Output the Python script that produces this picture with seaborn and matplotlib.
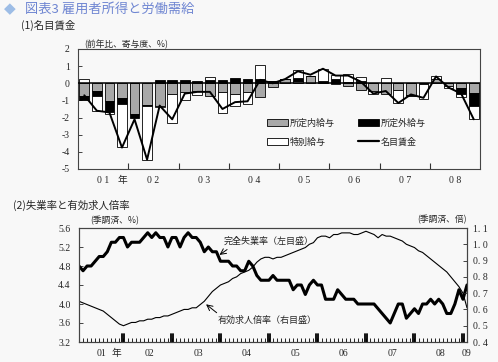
import numpy as np
import pandas as pd
import matplotlib
matplotlib.use('Agg')
import matplotlib.pyplot as plt
import matplotlib.transforms as mtransforms
from matplotlib.patches import Patch
from matplotlib.lines import Line2D
import seaborn as sns

# (1) nominal wage, quarterly 2001Q1-2008Q4, contributions (%)
quarters = np.arange(32)
shonai = [-0.75, -0.45, -1.05, -0.85, -1.80, -1.25, -1.30, -0.60, -0.50, -0.45, -0.75, -0.50, -0.60, -0.50, -0.80, -0.20,
          0.27, 0.14, 0.45, 0.00, -0.06, -0.15, -0.40, -0.45, -0.65, -0.37, -0.70, -0.05, 0.25, -0.15, -0.27, -0.55]
shogai = [-0.20, -0.30, -0.60, -0.35, -0.25, -0.05, 0.18, 0.20, 0.17, 0.12, 0.20, 0.20, 0.30, 0.25, 0.27, 0.15,
          0.00, 0.14, 0.00, 0.14, 0.27, 0.10, 0.14, 0.00, 0.03, 0.00, -0.02, 0.00, 0.00, 0.00, -0.33, -0.78]
tokubetsu = [0.25, -0.85, -0.15, -2.50, 0.00, -3.15, -0.10, -1.70, -0.45, -0.25, 0.15, -1.25, -0.75, -0.70, 0.78, 0.00,
             0.00, 0.49, 0.00, 0.72, 0.20, 0.45, 0.25, -0.15, 0.27, -0.80, 0.00, -0.85, 0.15, -0.15, -0.20, -0.75]
meimoku = [-0.70, -1.60, -1.70, -3.75, -2.10, -4.45, -1.30, -2.10, -0.60, -0.50, -0.50, -1.50, -1.10, -1.05, 0.20, 0.00,
           0.25, 0.70, 0.50, 0.85, 0.45, 0.45, 0.10, -0.60, -0.45, -1.15, -0.65, -0.85, 0.40, -0.25, -0.60, -2.10]
top_year_labels = ['0 1', '0 2', '0 3', '0 4', '0 5', '0 6', '0 7', '0 8']

# (2) unemployment rate (%) and job offers ratio, monthly 2001/1-2009/1
unemp = [4.8, 4.7, 4.8, 4.8, 4.9, 5.0, 5.0, 5.1, 5.3, 5.3, 5.4, 5.4,
         5.2, 5.3, 5.3, 5.3, 5.4, 5.5, 5.4, 5.5, 5.4, 5.4, 5.2, 5.4,
         5.4, 5.2, 5.4, 5.5, 5.4, 5.4, 5.3, 5.1, 5.2, 5.1, 5.1, 4.9,
         4.9, 4.9, 4.8, 4.8, 4.7, 4.7, 4.9, 4.8, 4.6, 4.5, 4.5, 4.5,
         4.6, 4.5, 4.5, 4.5, 4.5, 4.3, 4.4, 4.4, 4.2, 4.4, 4.5, 4.4,
         4.4, 4.1, 4.1, 4.1, 4.3, 4.2, 4.1, 4.1, 4.1, 4.0, 4.0, 4.0,
         4.0, 4.0, 3.9, 3.8, 3.7, 3.6, 3.8, 4.0, 4.0, 3.7, 3.8, 3.9,
         3.8, 4.0, 4.0, 4.1, 4.0, 4.1, 4.0, 3.8, 3.8, 4.0, 4.3, 4.1, 4.4]
ratio = [0.65, 0.64, 0.63, 0.62, 0.61, 0.60, 0.59, 0.57, 0.55, 0.53, 0.51, 0.50,
         0.51, 0.52, 0.52, 0.53, 0.53, 0.54, 0.54, 0.55, 0.55, 0.56, 0.56, 0.57,
         0.58, 0.59, 0.60, 0.60, 0.61, 0.61, 0.63, 0.65, 0.68, 0.71, 0.73, 0.75,
         0.76, 0.77, 0.79, 0.80, 0.82, 0.83, 0.84, 0.86, 0.89, 0.91, 0.92, 0.92,
         0.91, 0.92, 0.92, 0.93, 0.94, 0.95, 0.96, 0.97, 0.98, 1.00, 1.01, 1.04,
         1.05, 1.05, 1.04, 1.06, 1.06, 1.07, 1.07, 1.07, 1.06, 1.06, 1.07, 1.08,
         1.07, 1.06, 1.04, 1.06, 1.05, 1.05, 1.04, 1.03, 1.02, 1.00, 0.99, 0.98,
         0.96, 0.95, 0.93, 0.91, 0.89, 0.87, 0.85, 0.83, 0.80, 0.77, 0.74, 0.70, 0.61]
months = np.arange(len(unemp))
bottom_year_labels = ['01', '02', '03', '04', '05', '06', '07', '08']

sns.set_style('white')
plt.rcParams['font.family'] = ['Noto Sans CJK JP', 'DejaVu Sans']
serif = ['Liberation Serif', 'DejaVu Serif']
bg = '#f8f8f8'
gray = '#a8a8a8'

fig = plt.figure(figsize=(4.98, 3.62), dpi=100, facecolor=bg)

# header texts
fig.text(10 / 498, 1 - 9 / 362, '\u25c6', family='DejaVu Sans', color='#9dbde6', fontsize=11, ha='center', va='center')
fig.text(25 / 498, 1 - 9 / 362, '図表3 雇用者所得と労働需給', color='#6f86d2', fontsize=9.5, ha='left', va='center')
fig.text(21 / 498, 1 - 25 / 362, '(1)名目賃金', fontsize=7.5, ha='left', va='center')
fig.text(84 / 498, 1 - 44 / 362, '(前年比、寄与度、%)', fontsize=6.3, ha='left', va='center')
fig.text(13 / 498, 1 - 205 / 362, '(2)失業率と有効求人倍率', fontsize=7.5, ha='left', va='center')

# ---- top panel ----
ax1 = fig.add_axes([78 / 498, 1 - 169 / 362, 402 / 498, 120 / 362], facecolor=bg)
pos = np.zeros(32)
neg = np.zeros(32)
for vals, col in [(shonai, gray), (shogai, 'black'), (tokubetsu, 'white')]:
    v = np.array(vals)
    btm = np.where(v >= 0, pos, neg)
    ax1.bar(quarters, v, bottom=btm, width=0.78, color=col, edgecolor='black', linewidth=0.6, zorder=2)
    pos = pos + np.clip(v, 0, None)
    neg = neg + np.clip(v, None, 0)
ax1.axhline(0, color='black', lw=1.1, zorder=3)
sns.lineplot(x=quarters, y=meimoku, ax=ax1, color='black', lw=1.4, zorder=4)

ax1.set_xlim(-0.5, 31.5)
ax1.set_ylim(-5, 2)
ax1.set_yticks(range(-5, 3))
ax1.set_yticklabels([str(v) for v in range(-5, 3)], family=serif, fontsize=7)
ax1.set_xticks(np.arange(3.5, 31, 4))
ax1.set_xticklabels([])
ax1.tick_params(axis='x', bottom=True, direction='in', length=4, width=0.8, color='#333333')
ax1.tick_params(axis='y', left=True, direction='in', length=3, width=0.6, pad=6)
for i, lab in enumerate(top_year_labels):
    ax1.text(1.5 + 4 * i, -5.65, lab, family=serif, fontsize=7, ha='center', va='center')
ax1.text(3.05, -5.65, '年', fontsize=7, ha='center', va='center')
for s in ax1.spines.values():
    s.set_color('#444444')
    s.set_linewidth(0.8)
ax1.set_xlabel('')
ax1.set_ylabel('')

handles = [Patch(facecolor=gray, edgecolor='black', lw=0.6, label='所定内給与'),
           Patch(facecolor='white', edgecolor='black', lw=0.6, label='特別給与'),
           Patch(facecolor='black', edgecolor='black', lw=0.6, label='所定外給与'),
           Line2D([0], [0], color='black', lw=1.6, label='名目賃金')]
ax1.legend(handles=handles, ncol=2, loc='upper left', bbox_to_anchor=(0.46, 0.46), frameon=False,
           fontsize=6.5, handlelength=2.3, handleheight=0.7, handletextpad=0.2, columnspacing=2.6,
           labelspacing=1.1, borderpad=0)

# ---- bottom panel ----
ax2 = fig.add_axes([79 / 498, 1 - 342 / 362, 388 / 498, 114 / 362], facecolor=bg)
ax2r = ax2.twinx()
sns.lineplot(x=months, y=unemp, ax=ax2, color='black', lw=2.2)
sns.lineplot(x=months, y=ratio, ax=ax2r, color='black', lw=0.8)

ax2.set_xlim(0, 96)
ax2.set_ylim(3.2, 5.6)
ax2r.set_ylim(0.4, 1.1)
lt = np.arange(3.2, 5.61, 0.4)
ax2.set_yticks(lt)
ax2.set_yticklabels([f'{v:.1f}' for v in lt], family=serif, fontsize=7)
rt = np.arange(0.4, 1.11, 0.1)
ax2r.set_yticks(rt)
ax2r.set_yticklabels([f'{v:.1f}'.replace('.', '. ') for v in rt], family=serif, fontsize=7)
ax2.tick_params(axis='y', left=True, direction='in', length=3, width=0.6, pad=6)
ax2r.tick_params(axis='y', right=True, direction='in', length=3, width=0.6, pad=4)
ax2.set_xticks([])
ax2.set_xticks(months, minor=True)
ax2.tick_params(axis='x', which='minor', bottom=True, direction='in', length=3, width=0.6, color='black')
dec = np.arange(11, 96, 12)
trans = mtransforms.blended_transform_factory(ax2.transData, ax2.transAxes)
for d in dec:
    for off in (-0.25, 0.25):
        ax2.plot([d + off, d + off], [0, 0.07], color='black', lw=1.3, transform=trans, clip_on=False)
for i, lab in enumerate(bottom_year_labels):
    ax2.text(5.5 + 12 * i, -0.1, lab, family=serif, fontsize=7, ha='center', va='center', transform=trans)
ax2.text(9.3, -0.1, '年', fontsize=7, ha='center', va='center', transform=trans)
ax2.text(96, -0.1, '09', family=serif, fontsize=7, ha='center', va='center', transform=trans)
for a in (ax2, ax2r):
    a.set_xlabel('')
    a.set_ylabel('')
    for s in a.spines.values():
        s.set_color('#444444')
        s.set_linewidth(0.8)

ax2.text(0.03, 1.02, '(季調済、%)', fontsize=6.3, ha='left', va='bottom', transform=ax2.transAxes)
ax2.text(1.0, 1.03, '(季調済、倍)', fontsize=6.3, ha='right', va='bottom', transform=ax2.transAxes)

ax2.text(35.8, 5.33, '完全失業率（左目盛）', fontsize=6.5, ha='left', va='center')
ax2.annotate('', xy=(34.2, 5.0), xytext=(37.2, 5.18),
             arrowprops=dict(arrowstyle='->', color='black', lw=0.7))
ax2.text(34.4, 3.66, '有効求人倍率（右目盛）', fontsize=6.5, ha='left', va='center')
ax2.annotate('', xy=(30.9, 4.03), xytext=(34.6, 3.78),
             arrowprops=dict(arrowstyle='->', color='black', lw=0.7))

fig.savefig('out.png', dpi=100, facecolor=bg)
